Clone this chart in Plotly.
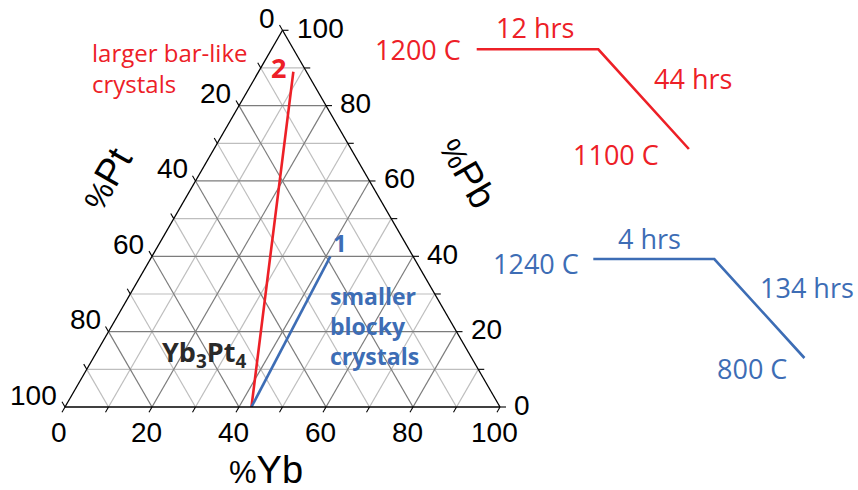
import math
import plotly.graph_objects as go

# ---------------- data ----------------
tick_values = [0, 10, 20, 30, 40, 50, 60, 70, 80, 90, 100]
label_values = [0, 20, 40, 60, 80, 100]
grid_minor = [10, 30, 50, 70, 90]
grid_major = [20, 40, 60, 80]

# compositions in % (Pt, Pb, Yb)
compound_label = "<b>Yb<sub>3</sub>Pt<sub>4</sub></b>"
compound_pt, compound_pb, compound_yb = 57.14, 0.0, 42.86
point1_pt, point1_pb, point1_yb = 19.0, 40.0, 41.0
point2_pt, point2_pb, point2_yb = 3.0, 89.0, 8.0

red_path_pt = [compound_pt, point2_pt]
red_path_pb = [compound_pb, point2_pb]
red_path_yb = [compound_yb, point2_yb]
blue_path_pt = [compound_pt, point1_pt]
blue_path_pb = [compound_pb, point1_pb]
blue_path_yb = [compound_yb, point1_yb]

# schematic heating programs: hold, then slow cool
profile_stage_x = [0.0, 1.0, 1.745]
profile_stage_level = [1.0, 1.0, 0.0]
red_profile_labels = ["1200 C", "12 hrs", "44 hrs", "1100 C"]
blue_profile_labels = ["1240 C", "4 hrs", "134 hrs", "800 C"]

# ---------------- style / layout constants ----------------
RED = "#ED2027"
BLUE = "#3D6DB5"
DARK = "#2A2A2A"
GRID_MAJOR = "#7C7C7C"
GRID_MINOR = "#BEBEBE"
FIG_W, FIG_H = 858, 490
TRI_LEFT, TRI_BASE, TRI_W = 65.0, 407.0, 435.0
TRI_H = TRI_W * math.sqrt(3) / 2
U = TRI_W / 100.0  # px per percent
S3 = math.sqrt(3) / 2


def to_xy(pt, pb, yb):
    s = pt + pb + yb
    return 100 * (yb + pb / 2) / s, 100 * (pb * S3) / s


fig = go.Figure()

# grid lines (ternary)
def grid_trace(values, color):
    a, b, c = [], [], []
    for v in values:
        # Pb = v
        a += [v, v, None]; b += [100 - v, 0, None]; c += [0, 100 - v, None]
        # Pt = v
        a += [100 - v, 0, None]; b += [v, v, None]; c += [0, 100 - v, None]
        # Yb = v
        a += [100 - v, 0, None]; b += [0, 100 - v, None]; c += [v, v, None]
    return go.Scatterternary(a=a, b=b, c=c, mode="lines", hoverinfo="skip",
                             line=dict(color=color, width=1.2), showlegend=False)

fig.add_trace(grid_trace(grid_minor, GRID_MINOR))
fig.add_trace(grid_trace(grid_major, GRID_MAJOR))

fig.add_trace(go.Scatterternary(a=red_path_pb, b=red_path_pt, c=red_path_yb, mode="lines",
                                line=dict(color=RED, width=2.6), showlegend=False))
fig.add_trace(go.Scatterternary(a=blue_path_pb, b=blue_path_pt, c=blue_path_yb, mode="lines",
                                line=dict(color=BLUE, width=2.6), showlegend=False))

# tick marks (overlay cartesian axes in ternary-projected units)
L = 6 / U
tx, ty = [], []
for v in tick_values:
    x0, y0 = to_xy(100 - v, 0, v)          # bottom edge, %Yb
    tx += [x0, x0 - 0.5 * L, None]; ty += [y0, y0 - S3 * L, None]
    x0, y0 = to_xy(v, 100 - v, 0)          # left edge, %Pt
    tx += [x0, x0 - 0.5 * L, None]; ty += [y0, y0 + S3 * L, None]
    x0, y0 = to_xy(0, v, 100 - v)          # right edge, %Pb
    tx += [x0, x0 + L, None]; ty += [y0, y0, None]
fig.add_trace(go.Scatter(x=tx, y=ty, mode="lines", line=dict(color="black", width=1.1),
                         hoverinfo="skip", showlegend=False, xaxis="x", yaxis="y"))

# heating profiles
fig.add_trace(go.Scatter(x=profile_stage_x, y=profile_stage_level, mode="lines",
                         line=dict(color=RED, width=2.6), showlegend=False,
                         xaxis="x2", yaxis="y2"))
fig.add_trace(go.Scatter(x=profile_stage_x, y=profile_stage_level, mode="lines",
                         line=dict(color=BLUE, width=2.6), showlegend=False,
                         xaxis="x3", yaxis="y3"))

ann = []
TICKFONT = dict(family="Liberation Sans, Arial", size=28, color="black")
for v in label_values:
    x0, y0 = to_xy(100 - v, 0, v)
    ann.append(dict(x=x0, y=y0, xref="x", yref="y", text=str(v), showarrow=False,
                    xanchor="center", yanchor="middle", xshift=-6, yshift=-25, font=TICKFONT))
    x0, y0 = to_xy(v, 100 - v, 0)
    ann.append(dict(x=x0, y=y0, xref="x", yref="y", text=str(v), showarrow=False,
                    xanchor="right", yanchor="middle", xshift=-6, yshift=12, font=TICKFONT))
    x0, y0 = to_xy(0, v, 100 - v)
    ann.append(dict(x=x0, y=y0, xref="x", yref="y", text=str(v), showarrow=False,
                    xanchor="left", yanchor="middle", xshift=12, yshift=2, font=TICKFONT))

TITLEFONT = dict(family="Liberation Sans, Arial", size=38, color="black")
pct = "<span style='font-size:31px'>%</span>"
bx, by = to_xy(50, 0, 50)
ann.append(dict(x=bx, y=by, xref="x", yref="y", text=pct + "Yb", showarrow=False,
                xanchor="center", yanchor="middle", xshift=-17, yshift=-63, font=TITLEFONT))
lx, ly = to_xy(50, 50, 0)
ann.append(dict(x=lx, y=ly, xref="x", yref="y", text=pct + "Pt", showarrow=False,
                textangle=-60, xanchor="center", yanchor="middle", xshift=-68, yshift=40,
                font=TITLEFONT))
rx, ry = to_xy(0, 50, 50)
ann.append(dict(x=rx, y=ry, xref="x", yref="y", text=pct + "Pb", showarrow=False,
                textangle=60, xanchor="center", yanchor="middle", xshift=77, yshift=46,
                font=TITLEFONT))

# point labels
p2x, p2y = to_xy(point2_pt, point2_pb, point2_yb)
ann.append(dict(x=p2x, y=p2y, xref="x", yref="y", text="<b>2</b>", showarrow=False,
                xanchor="center", yanchor="middle", xshift=-15, yshift=4,
                font=dict(family="Open Sans", size=27, color=RED)))
p1x, p1y = to_xy(point1_pt, point1_pb, point1_yb)
ann.append(dict(x=p1x, y=p1y, xref="x", yref="y", text="<b>1</b>", showarrow=False,
                xanchor="center", yanchor="middle", xshift=10, yshift=14,
                font=dict(family="Open Sans", size=24, color=BLUE)))
cx, cy = to_xy(compound_pt, compound_pb, compound_yb)
ann.append(dict(x=cx, y=cy, xref="x", yref="y", text=compound_label, showarrow=False,
                xanchor="right", yanchor="middle", xshift=-3, yshift=54,
                font=dict(family="Open Sans", size=27, color=DARK)))
ann.append(dict(x=p1x, y=p1y, xref="x", yref="y",
                text="<b>smaller<br>blocky<br>crystals</b>", showarrow=False, align="left",
                xanchor="left", yanchor="top", xshift=-2, yshift=-22,
                font=dict(family="Open Sans", size=23, color=BLUE)))
ann.append(dict(x=90 / FIG_W, y=1 - 34 / FIG_H, xref="paper", yref="paper",
                text="larger bar-like<br>crystals", showarrow=False, align="left",
                xanchor="left", yanchor="top",
                font=dict(family="Open Sans", size=24, color=RED)))

# profile labels
PFONT = 27
def profile_labels(labels, color, xr, yr, shifts):
    out = []
    pos = [(profile_stage_x[0], profile_stage_level[0], "right"),
           ((profile_stage_x[0] + profile_stage_x[1]) / 2, profile_stage_level[0], "center"),
           ((profile_stage_x[1] + profile_stage_x[2]) / 2,
            (profile_stage_level[1] + profile_stage_level[2]) / 2, "left"),
           (profile_stage_x[2], profile_stage_level[2], "right")]
    for lab, (x, y, xa), (dx, dy) in zip(labels, pos, shifts):
        out.append(dict(x=x, y=y, xref=xr, yref=yr, text=lab, showarrow=False,
                        xanchor=xa, yanchor="middle", xshift=dx, yshift=dy,
                        font=dict(family="Open Sans", size=PFONT, color=color)))
    return out

ann += profile_labels(red_profile_labels, RED, "x2", "y2",
                      [(-14, 0), (-3, 22), (8, 21), (-28, -5)])
ann += profile_labels(blue_profile_labels, BLUE, "x3", "y3",
                      [(-12, -4), (-4, 21), (-1, 21), (-15, -10)])

fig.update_layout(
    width=FIG_W, height=FIG_H, margin=dict(l=0, r=0, t=0, b=0),
    paper_bgcolor="white", plot_bgcolor="rgba(0,0,0,0)",
    showlegend=False,
    ternary=dict(
        domain=dict(x=[TRI_LEFT / FIG_W, (TRI_LEFT + TRI_W) / FIG_W],
                    y=[(FIG_H - TRI_BASE) / FIG_H, (FIG_H - TRI_BASE + TRI_H) / FIG_H]),
        sum=100, bgcolor="rgba(0,0,0,0)",
        aaxis=dict(showgrid=False, showticklabels=False, ticks="", showline=True,
                   linecolor="black", linewidth=1.3, title=dict(text="")),
        baxis=dict(showgrid=False, showticklabels=False, ticks="", showline=True,
                   linecolor="black", linewidth=1.3, title=dict(text="")),
        caxis=dict(showgrid=False, showticklabels=False, ticks="", showline=True,
                   linecolor="black", linewidth=1.3, title=dict(text="")),
    ),
    xaxis=dict(domain=[0, 1], range=[-TRI_LEFT / U, (FIG_W - TRI_LEFT) / U], visible=False,
               fixedrange=True),
    yaxis=dict(domain=[0, 1], range=[-(FIG_H - TRI_BASE) / U, TRI_BASE / U], visible=False,
               fixedrange=True),
    xaxis2=dict(domain=[(476.7 - 0.9 * 121.6) / FIG_W, (476.7 + 2.0 * 121.6) / FIG_W],
                range=[-0.9, 2.0], visible=False, anchor="y2"),
    yaxis2=dict(domain=[(FIG_H - 149.0 - 0.4 * 99.7) / FIG_H, (FIG_H - 49.3 + 0.4 * 99.7) / FIG_H],
                range=[-0.4, 1.4], visible=False, anchor="x2"),
    xaxis3=dict(domain=[(593.3 - 0.9 * 121.0) / FIG_W, (593.3 + 2.0 * 121.0) / FIG_W],
                range=[-0.9, 2.0], visible=False, anchor="y3"),
    yaxis3=dict(domain=[(FIG_H - 358.0 - 0.4 * 99.0) / FIG_H, (FIG_H - 259.0 + 0.4 * 99.0) / FIG_H],
                range=[-0.4, 1.4], visible=False, anchor="x3"),
    annotations=ann,
)

fig.write_html("out.html", config={"displayModeBar": False},
               post_script="document.body.style.margin='0';")
